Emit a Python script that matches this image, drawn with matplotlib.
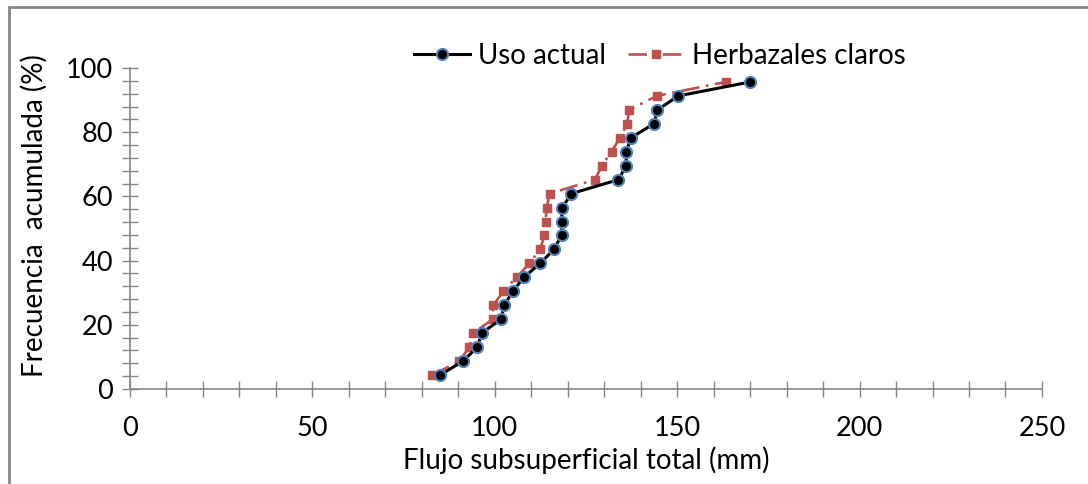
import matplotlib.pyplot as plt
import numpy as np
from matplotlib.patches import Rectangle
from matplotlib.ticker import MultipleLocator

# cumulative frequency (%), 22 ranked values
freq = [4.35, 8.70, 13.04, 17.39, 21.74, 26.09, 30.43, 34.78, 39.13, 43.48, 47.83,
        52.17, 56.52, 60.87, 65.22, 69.57, 73.91, 78.26, 82.61, 86.96, 91.30, 95.65]

# subsurface flow (mm)
uso_actual = [85.0, 91.3, 95.2, 96.4, 101.7, 102.6, 104.9, 108.0, 112.4, 116.2, 118.3,
              118.3, 118.5, 121.0, 133.9, 136.0, 136.1, 137.3, 143.6, 144.6, 150.3, 170.0]
herbazales = [82.9, 90.3, 93.0, 94.1, 99.4, 99.6, 102.3, 106.0, 109.5, 112.4, 113.6,
              113.9, 114.2, 115.1, 127.5, 129.3, 132.0, 134.3, 136.3, 136.8, 144.4, 163.3]

plt.rcParams['font.family'] = ['Lato', 'DejaVu Sans']

fig = plt.figure(figsize=(10.88, 4.84), dpi=100)
ax = fig.add_axes([0.1195, 0.1963, 0.8382, 0.6632])

# outer chart border
fig.patches.append(Rectangle((9 / 1088, -0.1), 1.2, 1.1 - 7 / 484, transform=fig.transFigure,
                             fill=False, edgecolor='#868686', linewidth=2))

ax.plot(uso_actual, freq, color='black', linewidth=2.2, marker='o', markersize=8,
        markerfacecolor='black', markeredgecolor='#4F81BD', markeredgewidth=1.5,
        label='Uso actual', zorder=3)
ax.plot(herbazales, freq, color='#C0504D', linewidth=1.9, marker='s', markersize=5.5,
        markerfacecolor='#C0504D', markeredgecolor='#C0504D', dashes=(7, 2.5, 1, 2.5),
        label='Herbazales claros', zorder=2)

ax.set_xlim(0, 250)
ax.set_ylim(0, 100)
ax.xaxis.set_major_locator(MultipleLocator(50))
ax.xaxis.set_minor_locator(MultipleLocator(10))
ax.yaxis.set_major_locator(MultipleLocator(20))
ax.yaxis.set_minor_locator(MultipleLocator(4))

for s in ['top', 'right']:
    ax.spines[s].set_visible(False)
for s in ['left', 'bottom']:
    ax.spines[s].set_color('#868686')
    ax.spines[s].set_linewidth(1.2)

ax.tick_params(axis='both', which='both', direction='inout', color='#868686', width=1)
ax.tick_params(axis='x', which='both', length=11, labelsize=19.5, pad=14)
ax.tick_params(axis='y', which='both', length=12, labelsize=19.5, pad=6)

ax.set_xlabel('Flujo subsuperficial total (mm)', fontsize=20, labelpad=4)
ax.set_ylabel('Frecuencia  acumulada (%)', fontsize=20)
ax.yaxis.set_label_coords(-0.09, 0.54)

fig.legend(loc='center', bbox_to_anchor=(660 / 1088, 1 - 56 / 484), ncol=2, frameon=False,
           fontsize=20, handlelength=2.0, handletextpad=0.3, columnspacing=0.8)

fig.savefig('out.png', dpi=100)
